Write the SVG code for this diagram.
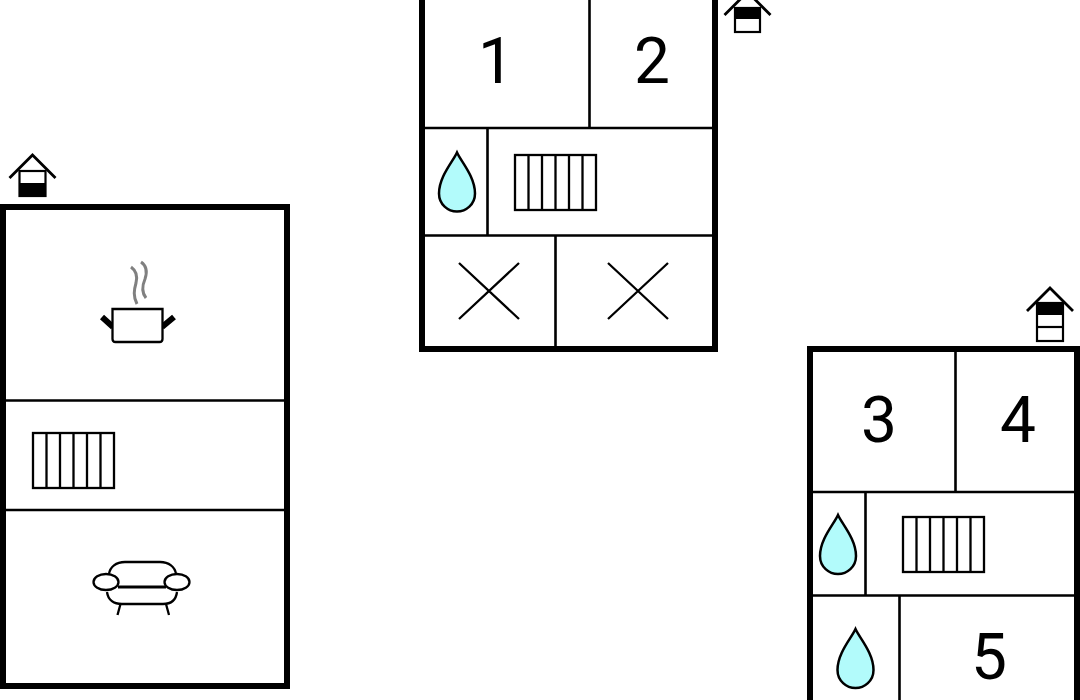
<svg xmlns="http://www.w3.org/2000/svg" width="1080" height="700" viewBox="0 0 1080 700">
<style>
.wall{fill:none;stroke:#000;stroke-width:6}
.div{fill:none;stroke:#000;stroke-width:2.600}
.ico{fill:none;stroke:#000;stroke-width:2.300}
.drop{fill:#b2fbfb;stroke:#000;stroke-width:2.500}
.steam{fill:none;stroke:#808080;stroke-width:3}
.num{font-family:Roboto,"Liberation Sans",sans-serif;font-size:64px;fill:#000;text-anchor:middle}
</style>
<defs>
<g id="rad" class="ico">
<rect x="0" y="0" width="81" height="55"/>
<path d="M13.500 0V55M27 0V55M40.500 0V55M54 0V55M67.500 0V55"/>
</g>
<path id="dropShape" class="drop" d="M0 0C-4 9-18 24-18 41C-18 52-9 59 0 59C9 59 18 52 18 41C18 24 4 9 0 0Z"/>
<path id="roof" d="M-23 24L0 1L23 24" fill="none" stroke="#000" stroke-width="2.800"/>
<g id="cross" class="ico"><path d="M0 0L60 56M60 0L0 56"/></g>
</defs>
<rect width="1080" height="700" fill="#fff"/>
<g id="plan-left">
<rect class="wall" x="3" y="207" width="284" height="479"/>
<path class="div" d="M3 400.500H287M3 510H287"/>
</g>
<g id="plan-middle">
<path class="wall" d="M422 -5V349H715V-5"/>
<path class="div" d="M589.500 0V128M422 128H715M487.500 128V235.500M422 235.500H715M555.500 235.500V349"/>
</g>
<g id="plan-right">
<path class="wall" d="M810 705V349H1077V705"/>
<path class="div" d="M955.500 349V492M810 492H1077M865.500 492V595M810 595.500H1077M899.500 595.500V700"/>
</g>
<g id="house-left">
<use href="#roof" x="32.500" y="154"/>
<rect x="19.500" y="171" width="26" height="25" fill="#fff" stroke="#000" stroke-width="2.200"/>
<rect x="19" y="183" width="27" height="14" fill="#000"/>
</g>
<g id="house-middle">
<use href="#roof" x="747.500" y="-9"/>
<rect x="735" y="8" width="25" height="24" fill="#fff" stroke="#000" stroke-width="2.200"/>
<rect x="734" y="7" width="27" height="12" fill="#000"/>
</g>
<g id="house-right">
<use href="#roof" x="1050" y="287"/>
<rect x="1037" y="303" width="26" height="38" fill="#fff" stroke="#000" stroke-width="2.200"/>
<rect x="1036" y="303" width="28" height="12" fill="#000"/>
<path d="M1037 327H1063" stroke="#000" stroke-width="2.200"/>
</g>
<g id="pot">
<path class="steam" d="M131 267C138 272 137 279 136 283C134 290 133 296 137 304"/>
<path class="steam" d="M141 262C147 266 147 273 145 279C142 286 142 293 146 298"/>
<path d="M102 317L113 327M174 317L162 327" fill="none" stroke="#000" stroke-width="6"/>
<path d="M112.500 309H162.500V339Q162.500 342 159.500 342H115.500Q112.500 342 112.500 339Z" fill="#fff" stroke="#000" stroke-width="2.300"/>
</g>
<g id="armchair" class="ico">
<path d="M109 574C110 567 116 562 125 562H160C169 562 175 567 176 574"/>
<path d="M118 587H166" stroke-width="2.800"/>
<path d="M107 592C108 600 114 604 122 604H163C171 604 176 600 177 592"/>
<ellipse cx="106" cy="582" rx="12.500" ry="8"/>
<ellipse cx="177" cy="582" rx="12.500" ry="8"/>
<path d="M120.500 604L117.500 615M166 604L169 615"/>
</g>
<g id="radiators">
<use href="#rad" x="33" y="433"/>
<use href="#rad" x="515" y="155"/>
<use href="#rad" x="903" y="517"/>
</g>
<g id="drops">
<use href="#dropShape" x="457" y="152.500"/>
<use href="#dropShape" x="838" y="515"/>
<use href="#dropShape" x="855.500" y="629"/>
</g>
<g id="crosses">
<use href="#cross" x="459" y="263"/>
<use href="#cross" x="608" y="263"/>
</g>
<g id="labels">
<text class="num" x="496" y="83">1</text>
<text class="num" x="652" y="83">2</text>
<text class="num" x="879" y="442">3</text>
<text class="num" x="1018" y="442">4</text>
<text class="num" x="989" y="679">5</text>
</g>
</svg>
